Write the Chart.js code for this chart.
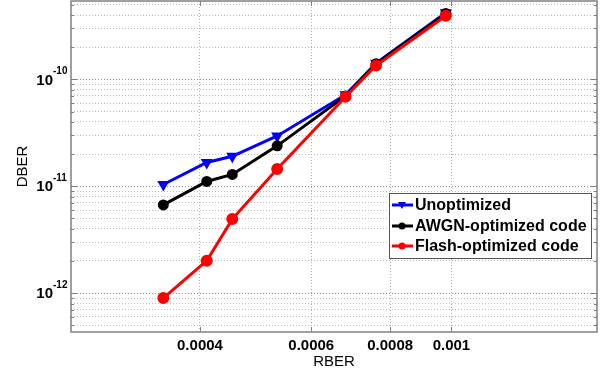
<!DOCTYPE html>
<html>
<head>
<meta charset="utf-8">
<script src="https://cdn.jsdelivr.net/npm/chart.js@4.4.0/dist/chart.umd.min.js"></script>
<style>
  html, body { margin: 0; padding: 0; background: #fff; }
  canvas { display: block; }
</style>
</head>
<body>
<canvas id="berChart" width="606" height="375"></canvas>
<script>
const rber = [0.00035, 0.00041, 0.00045, 0.00053, 0.00068, 0.00076, 0.00098];
const unoptimized = [1.04e-11, 1.67e-11, 1.91e-11, 2.96e-11, 7.2e-11, 1.42e-10, 4.2e-10];
const awgnOptimized = [6.7e-12, 1.11e-11, 1.29e-11, 2.39e-11, 7.0e-11, 1.40e-10, 4.15e-10];
const flashOptimized = [9.0e-13, 2.01e-12, 4.93e-12, 1.45e-11, 6.9e-11, 1.35e-10, 3.95e-10];
const seriesNames = ["Unoptimized", "AWGN-optimized code", "Flash-optimized code"];
const xTicks = [0.0004, 0.0006, 0.0008, 0.001];
const xTickLabels = ["0.0004", "0.0006", "0.0008", "0.001"];
const yDecades = [-13, -12, -11, -10];
const yLabelDecades = [-12, -11, -10];

const X_MIN = 0.00025, X_MAX = 0.0017;
const Y_MIN = 4.33e-13, Y_MAX = 5.42e-10;

// minor + major ticks for the log y axis
const yTickValues = [];
yDecades.forEach((d) => {
  for (let m = 1; m <= 9; m++) {
    const v = m * Math.pow(10, d);
    if (v >= Y_MIN && v <= Y_MAX) yTickValues.push({ value: v, major: m === 1 });
  }
});

const FONT = "'Liberation Sans', Arial, Helvetica, sans-serif";

function toPoints(ys) {
  return rber.map((x, i) => ({ x: x, y: ys[i] }));
}

const framePlugin = {
  id: "frame",
  afterDraw(chart) {
    const ctx = chart.ctx;
    const a = chart.chartArea;
    const xs = chart.scales.x;
    const ys = chart.scales.y;
    ctx.save();

    // tick marks inside the box
    ctx.strokeStyle = "#808080";
    ctx.lineWidth = 1;
    ctx.beginPath();
    yTickValues.forEach((t) => {
      const y = Math.round(ys.getPixelForValue(t.value)) + 0.5;
      const len = t.major ? 6 : 3;
      ctx.moveTo(a.left, y); ctx.lineTo(a.left + len, y);
      ctx.moveTo(a.right, y); ctx.lineTo(a.right - len, y);
    });
    xTicks.forEach((v) => {
      const x = Math.round(xs.getPixelForValue(v)) + 0.5;
      ctx.moveTo(x, a.top); ctx.lineTo(x, a.top + 5);
      ctx.moveTo(x, a.bottom); ctx.lineTo(x, a.bottom - 5);
    });
    ctx.stroke();

    // frame
    ctx.lineWidth = 1.5;
    ctx.strokeRect(a.left, a.top, a.right - a.left, a.bottom - a.top);

    // y labels 10^n
    ctx.fillStyle = "#000";
    yLabelDecades.forEach((d) => {
      const y = ys.getPixelForValue(Math.pow(10, d));
      ctx.font = "bold 15px " + FONT;
      ctx.textAlign = "right";
      ctx.textBaseline = "middle";
      ctx.fillText("10", 53, y + 1);
      ctx.font = "bold 10px " + FONT;
      ctx.textAlign = "left";
      ctx.fillText(String(d), 53, y - 8);
    });

    // legend
    const lx = 389, ly = 193, lw = 202, lh = 65;
    ctx.fillStyle = "#fff";
    ctx.fillRect(lx, ly, lw, lh);
    ctx.strokeStyle = "#555";
    ctx.lineWidth = 1;
    ctx.strokeRect(lx + 0.5, ly + 0.5, lw, lh);
    const rows = [205, 226, 246];
    chart.data.datasets.forEach((ds, i) => {
      const y = rows[i];
      ctx.strokeStyle = ds.borderColor;
      ctx.lineWidth = 3;
      ctx.beginPath();
      ctx.moveTo(392, y); ctx.lineTo(413, y);
      ctx.stroke();
      ctx.fillStyle = ds.borderColor;
      ctx.beginPath();
      if (ds.pointStyle === "triangle") {
        ctx.moveTo(398, y - 3); ctx.lineTo(406, y - 3); ctx.lineTo(402, y + 4);
        ctx.closePath();
      } else {
        ctx.arc(402, y, 3.5, 0, Math.PI * 2);
      }
      ctx.fill();
      ctx.fillStyle = "#000";
      ctx.font = "bold 16px " + FONT;
      ctx.textAlign = "left";
      ctx.textBaseline = "middle";
      ctx.fillText(ds.label, 415, y + 1);
    });
    ctx.restore();
  },
};

new Chart(document.getElementById("berChart"), {
  type: "line",
  data: {
    datasets: [
      {
        label: seriesNames[0],
        data: toPoints(unoptimized),
        borderColor: "#0000ff",
        backgroundColor: "#0000ff",
        pointStyle: "triangle",
        rotation: 180,
        pointRadius: 4,
        borderWidth: 3,
        order: 3,
      },
      {
        label: seriesNames[1],
        data: toPoints(awgnOptimized),
        borderColor: "#000000",
        backgroundColor: "#000000",
        pointStyle: "circle",
        pointRadius: 4,
        borderWidth: 3,
        order: 2,
      },
      {
        label: seriesNames[2],
        data: toPoints(flashOptimized),
        borderColor: "#ff0000",
        backgroundColor: "#ff0000",
        pointStyle: "circle",
        pointRadius: 4.5,
        borderWidth: 3,
        order: 1,
      },
    ],
  },
  options: {
    responsive: false,
    animation: false,
    layout: { autoPadding: false, padding: { left: 0, right: 9, top: 1, bottom: 0 } },
    plugins: {
      legend: { display: false },
      tooltip: { enabled: false },
    },
    elements: { line: { tension: 0 } },
    scales: {
      x: {
        type: "logarithmic",
        min: X_MIN,
        max: X_MAX,
        afterBuildTicks: (scale) => {
          scale.ticks = xTicks.map((v) => ({ value: v }));
        },
        afterFit: (scale) => {
          scale.height = 43;
        },
        ticks: {
          color: "#000",
          padding: 5,
          maxRotation: 0,
          autoSkip: false,
          font: { family: FONT, size: 15, weight: "bold" },
          callback: (value, index) => xTickLabels[index],
        },
        grid: {
          color: "#b0b0b0",
          lineWidth: 1,
          drawTicks: false,
        },
        border: { display: false, dash: [1, 2] },
        title: {
          display: true,
          text: "RBER",
          color: "#000",
          font: { family: FONT, size: 15 },
        },
      },
      y: {
        type: "logarithmic",
        min: Y_MIN,
        max: Y_MAX,
        afterBuildTicks: (scale) => {
          scale.ticks = yTickValues.map((t) => ({ value: t.value, major: t.major }));
        },
        afterFit: (scale) => {
          scale.width = 71;
        },
        ticks: { display: false },
        grid: {
          color: (c) => (c.tick && c.tick.major ? "#939393" : "#bababa"),
          lineWidth: 1,
          drawTicks: false,
        },
        border: { display: false, dash: [1, 2] },
        title: {
          display: true,
          text: "DBER",
          color: "#000",
          padding: { top: 14, bottom: 0 },
          font: { family: FONT, size: 15 },
        },
      },
    },
  },
  plugins: [framePlugin],
});
</script>
</body>
</html>
